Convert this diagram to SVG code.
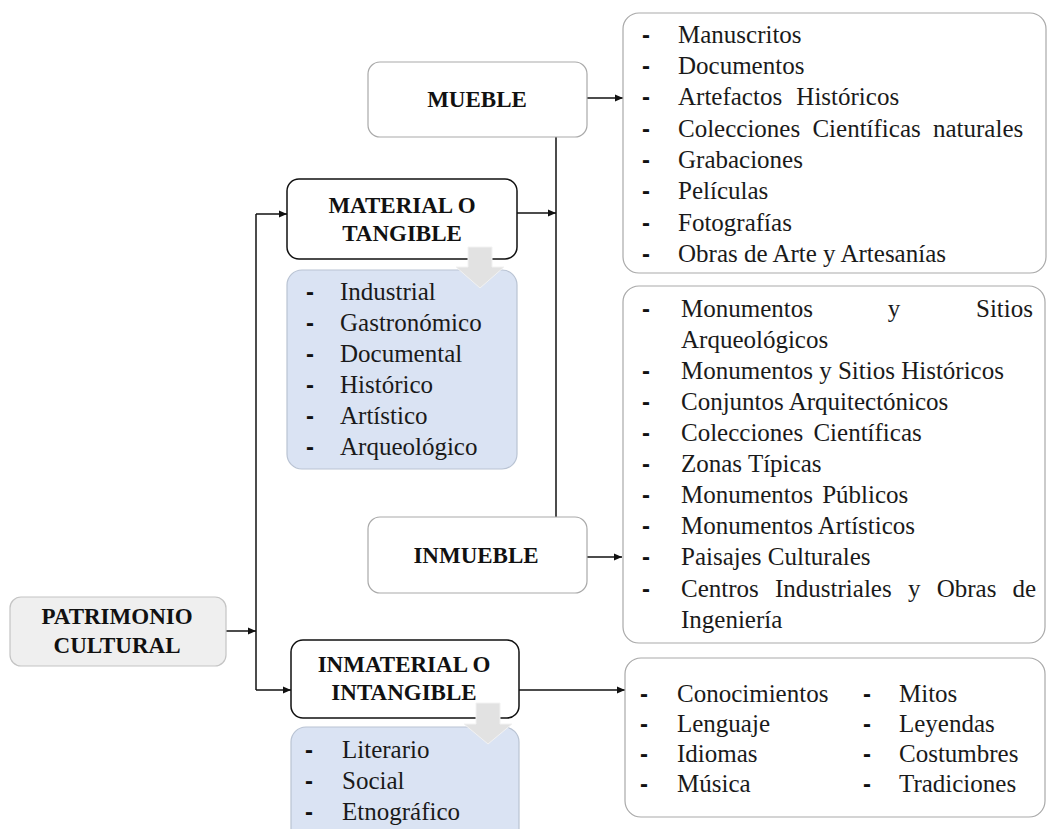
<svg xmlns="http://www.w3.org/2000/svg" width="1047" height="829" viewBox="0 0 1047 829">
<defs>
<style>
.t{font-family:"Liberation Serif","Times New Roman",serif;fill:#1a1a1a}
.h{font-size:23px;font-weight:bold;text-anchor:middle;fill:#111}
.li{font-size:25px}
.b{font-family:"Liberation Sans",Arial,sans-serif;font-size:24px;font-weight:bold;fill:#111}
.con{stroke:#111;stroke-width:1.5;fill:none}
.grey{fill:#fff;stroke:#a9a9a9;stroke-width:1.2}
.dark{fill:#fff;stroke:#111;stroke-width:1.5}
.blue{fill:#dae3f3;stroke:#b9c3d3;stroke-width:1.2}
.garrow{fill:#e2e2e2;stroke:#f2f2f2;stroke-width:1}
</style>
<marker id="ah" markerWidth="9" markerHeight="8" refX="8" refY="4" orient="auto" markerUnits="userSpaceOnUse">
<path d="M0,0.5 L8,4 L0,7.5 z" fill="#111"/>
</marker>
</defs>
<rect width="1047" height="829" fill="#fff"/>

<g id="connectors">
<line class="con" x1="256" y1="214" x2="256" y2="690"/>
<line class="con" x1="226" y1="631" x2="256" y2="631" marker-end="url(#ah)"/>
<line class="con" x1="256" y1="214" x2="287" y2="214" marker-end="url(#ah)"/>
<line class="con" x1="256" y1="690" x2="291" y2="690" marker-end="url(#ah)"/>
<line class="con" x1="556" y1="137" x2="556" y2="517"/>
<line class="con" x1="517" y1="213" x2="556" y2="213" marker-end="url(#ah)"/>
<line class="con" x1="587" y1="98" x2="623" y2="98" marker-end="url(#ah)"/>
<line class="con" x1="587" y1="557" x2="622" y2="557" marker-end="url(#ah)"/>
<line class="con" x1="519" y1="690" x2="625" y2="690" marker-end="url(#ah)"/>
</g>

<g id="patrimonio">
<rect x="10" y="597" width="216" height="69" rx="11" fill="#efefef" stroke="#c4c4c4" stroke-width="1.2"/>
<text class="t h" x="117" y="624">PATRIMONIO</text>
<text class="t h" x="117" y="653">CULTURAL</text>
</g>

<g id="material">
<rect class="dark" x="287" y="179" width="230" height="80" rx="12"/>
<text class="t h" x="402" y="213">MATERIAL O</text>
<text class="t h" x="402" y="241">TANGIBLE</text>
</g>

<g id="material-tipos">
<rect class="blue" x="287" y="270" width="230" height="199" rx="15"/>
<g class="t li">
<text x="340" y="300">Industrial</text>
<text x="340" y="331">Gastronómico</text>
<text x="340" y="362">Documental</text>
<text x="340" y="393">Histórico</text>
<text x="340" y="424">Artístico</text>
<text x="340" y="455">Arqueológico</text>
</g>
<g class="b">
<text x="306" y="300">-</text>
<text x="306" y="331">-</text>
<text x="306" y="362">-</text>
<text x="306" y="393">-</text>
<text x="306" y="424">-</text>
<text x="306" y="455">-</text>
</g>
</g>

<g id="material-arrow">
<path class="garrow" d="M468,247 H492 V267 H504 L480,288 L456,267 H468 Z"/>
</g>

<g id="inmaterial">
<rect class="dark" x="291" y="640" width="228" height="78" rx="12"/>
<text class="t h" x="404" y="672">INMATERIAL O</text>
<text class="t h" x="404" y="700">INTANGIBLE</text>
</g>

<g id="inmaterial-tipos">
<rect class="blue" x="291" y="727" width="228" height="120" rx="15"/>
<g class="t li">
<text x="342" y="758">Literario</text>
<text x="342" y="789">Social</text>
<text x="342" y="820">Etnográfico</text>
</g>
<g class="b">
<text x="305" y="758">-</text>
<text x="305" y="789">-</text>
<text x="305" y="820">-</text>
</g>
</g>

<g id="inmaterial-arrow">
<path class="garrow" d="M476,703 H500 V724 H512 L488,744 L464,724 H476 Z"/>
</g>

<g id="mueble">
<rect class="grey" x="368" y="62" width="219" height="75" rx="12"/>
<text class="t h" x="477" y="107">MUEBLE</text>
</g>

<g id="inmueble">
<rect class="grey" x="368" y="517" width="219" height="76" rx="12"/>
<text class="t h" x="476" y="563">INMUEBLE</text>
</g>

<g id="mueble-lista">
<rect class="grey" x="623" y="13" width="423" height="260" rx="16"/>
<g class="t li">
<text x="678" y="43">Manuscritos</text>
<text x="678" y="74">Documentos</text>
<text x="678" y="105" word-spacing="8">Artefactos Históricos</text>
<text x="678" y="137" word-spacing="6">Colecciones Científicas naturales</text>
<text x="678" y="168">Grabaciones</text>
<text x="678" y="199">Películas</text>
<text x="678" y="231">Fotografías</text>
<text x="678" y="262">Obras de Arte y Artesanías</text>
</g>
<g class="b">
<text x="642" y="43">-</text>
<text x="642" y="74">-</text>
<text x="642" y="105">-</text>
<text x="642" y="137">-</text>
<text x="642" y="168">-</text>
<text x="642" y="199">-</text>
<text x="642" y="231">-</text>
<text x="642" y="262">-</text>
</g>
</g>

<g id="inmueble-lista">
<rect class="grey" x="623" y="286" width="422" height="357" rx="16"/>
<g class="t li">
<text x="681" y="317">Monumentos</text>
<text x="894" y="317" text-anchor="middle">y</text>
<text x="1033" y="317" text-anchor="end">Sitios</text>
<text x="681" y="348">Arqueológicos</text>
<text x="681" y="379">Monumentos y Sitios Históricos</text>
<text x="681" y="410">Conjuntos Arquitectónicos</text>
<text x="681" y="441" word-spacing="4">Colecciones Científicas</text>
<text x="681" y="472">Zonas Típicas</text>
<text x="681" y="503" word-spacing="3">Monumentos Públicos</text>
<text x="681" y="534">Monumentos Artísticos</text>
<text x="681" y="565">Paisajes Culturales</text>
<text x="681" y="597" word-spacing="10">Centros Industriales y Obras de</text>
<text x="681" y="628">Ingeniería</text>
</g>
<g class="b">
<text x="642" y="317">-</text>
<text x="642" y="379">-</text>
<text x="642" y="410">-</text>
<text x="642" y="441">-</text>
<text x="642" y="472">-</text>
<text x="642" y="503">-</text>
<text x="642" y="534">-</text>
<text x="642" y="565">-</text>
<text x="642" y="597">-</text>
</g>
</g>

<g id="inmaterial-lista">
<rect class="grey" x="625" y="658" width="420" height="159" rx="16"/>
<g class="t li">
<text x="677" y="702">Conocimientos</text>
<text x="677" y="732">Lenguaje</text>
<text x="677" y="762">Idiomas</text>
<text x="677" y="792">Música</text>
<text x="899" y="702">Mitos</text>
<text x="899" y="732">Leyendas</text>
<text x="899" y="762">Costumbres</text>
<text x="899" y="792">Tradiciones</text>
</g>
<g class="b">
<text x="640" y="702">-</text>
<text x="640" y="732">-</text>
<text x="640" y="762">-</text>
<text x="640" y="792">-</text>
<text x="863" y="702">-</text>
<text x="863" y="732">-</text>
<text x="863" y="762">-</text>
<text x="863" y="792">-</text>
</g>
</g>
</svg>
